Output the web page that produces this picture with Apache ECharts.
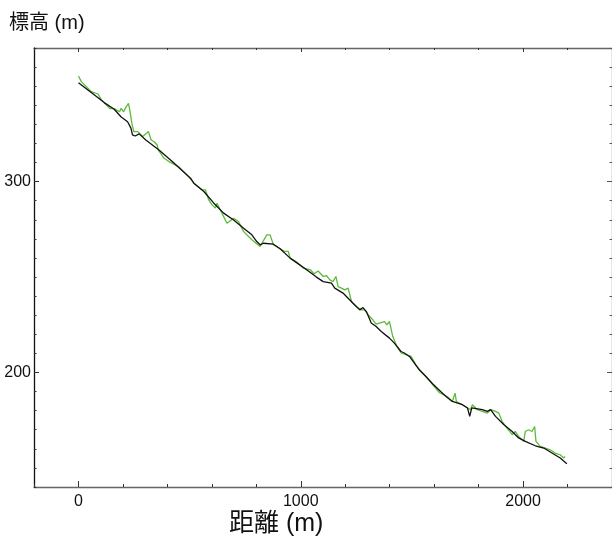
<!DOCTYPE html>
<html>
<head>
<meta charset="utf-8">
<script src="https://cdn.jsdelivr.net/npm/echarts@6/dist/echarts.min.js"></script>
<style>
  html, body { margin: 0; padding: 0; background: #fff; }
  #chart { width: 612px; height: 536px; }
</style>
</head>
<body>
<div id="chart"></div>
<script>
// distance (m), elevation (m)
const blackLine = [
  [0,351.8],[116,341.4],[161,337.9],[191,334.0],[206,332.7],[221,331.4],[236,328.0],[243,324.5],[255,323.9],[273,325.0],
  [303,321.8],[362,316.6],[422,310.5],[504,301.8],[519,299.2],[564,294.8],[609,288.7],[653,283.5],[698,279.9],[743,275.6],
  [780,272.1],[802,268.6],[817,266.9],[832,267.7],[877,267.2],[907,264.8],[952,259.9],[989,256.9],[1034,253.2],[1069,250.1],
  [1101,247.6],[1138,246.8],[1153,244.2],[1190,241.6],[1235,236.3],[1265,232.8],[1280,234.0],[1295,231.9],[1317,225.9],[1339,224.1],
  [1362,221.5],[1399,218.0],[1421,215.4],[1451,211.0],[1466,210.2],[1489,208.4],[1511,204.9],[1533,201.4],[1563,197.9],[1593,194.1],
  [1629,190.0],[1660,186.8],[1682,184.8],[1727,183.1],[1750,181.4],[1760,177.0],[1769,181.4],[1817,180.5],[1839,179.6],[1854,180.5],
  [1876,177.0],[1914,172.6],[1951,169.1],[1980,165.7],[2010,163.9],[2055,161.6],[2093,160.4],[2130,157.8],[2167,155.2],[2197,152.2]
];
const greenLine = [
  [0,355.3],[13,352.4],[58,347.1],[88,345.9],[103,342.8],[140,338.4],[162,338.1],[185,336.6],[192,338.4],[203,336.6],
  [215,339.3],[225,341.0],[231,337.5],[240,330.6],[249,326.2],[267,326.2],[289,323.6],[315,326.2],[327,321.8],[341,320.9],
  [354,319.2],[359,316.6],[385,312.2],[407,310.5],[452,307.7],[497,302.5],[519,299.2],[556,295.7],[571,295.7],[586,290.4],
  [601,287.8],[616,286.1],[623,288.7],[638,285.2],[668,278.2],[698,280.8],[720,279.1],[743,273.8],[780,269.5],[817,266.0],
  [847,272.1],[862,272.1],[877,266.9],[907,264.8],[929,263.4],[944,263.4],[952,259.9],[980,258.0],[1011,254.8],[1043,253.8],
  [1060,251.7],[1078,253.2],[1101,250.3],[1115,250.8],[1131,248.5],[1145,247.6],[1158,250.3],[1168,245.0],[1183,244.2],[1198,243.3],
  [1213,244.2],[1228,237.2],[1250,234.6],[1272,232.8],[1287,232.8],[1310,229.3],[1324,227.6],[1339,225.3],[1354,225.9],[1362,225.0],
  [1377,226.7],[1387,225.0],[1399,226.7],[1414,218.8],[1429,214.5],[1451,210.2],[1473,209.3],[1496,208.4],[1518,204.0],[1541,200.5],
  [1563,197.9],[1593,193.6],[1624,189.4],[1660,187.3],[1682,184.8],[1694,189.2],[1700,184.8],[1727,183.1],[1764,180.5],[1772,183.1],
  [1794,180.5],[1817,179.6],[1839,178.7],[1854,180.5],[1876,179.6],[1891,178.7],[1906,174.3],[1928,170.9],[1951,167.4],[1965,169.1],
  [1980,166.5],[2003,163.9],[2010,169.1],[2025,170.0],[2040,169.1],[2052,171.7],[2058,163.9],[2077,161.3],[2100,160.4],[2122,159.5],
  [2144,157.8],[2167,156.9],[2182,155.2],[2189,156.0]
];

const xTickLabels = [0, 1000, 2000];
const yTickLabels = [200, 300];
const xRange = [-200, 2400];
const yRange = [140, 370];

const font = '"Liberation Sans", "Noto Sans CJK JP", sans-serif';
const axisGray = '#666';

function xAx(pos, opts) {
  return Object.assign({
    type: 'value', position: pos, offset: 0, min: xRange[0], max: xRange[1], interval: 200,
    splitLine: { show: false },
    axisLine: { show: false, onZero: false },
    axisLabel: { show: false },
    axisTick: { show: false }
  }, opts);
}
function yAx(pos, opts) {
  return Object.assign({
    type: 'value', position: pos, offset: 0, min: yRange[0], max: yRange[1], interval: 10,
    splitLine: { show: false },
    axisLine: { show: false, onZero: false },
    axisLabel: { show: false },
    axisTick: { show: false }
  }, opts);
}

const chart = echarts.init(document.getElementById('chart'));
chart.setOption({
  animation: false,
  backgroundColor: '#fff',
  grid: { left: 34, top: 48, right: -3, bottom: 49, containLabel: false },
  xAxis: [
    xAx('bottom', {
      axisLine: { show: true, onZero: false, lineStyle: { color: axisGray, width: 1.3 } },
      axisTick: { show: true, inside: true, length: 3, lineStyle: { color: '#333' } },
      axisLabel: { show: true, customValues: xTickLabels, formatter: v => String(v), margin: 7, color: '#111', fontSize: 16, fontFamily: font }
    }),
    xAx('bottom', {
      axisTick: { show: true, inside: true, length: 6, customValues: xTickLabels, lineStyle: { color: '#333' } }
    }),
    xAx('top', {
      axisLine: { show: true, onZero: false, lineStyle: { color: axisGray, width: 1.3 } },
      axisTick: { show: true, inside: true, length: 2, lineStyle: { color: '#333' } }
    }),
    xAx('top', {
      axisTick: { show: true, inside: true, length: 4, customValues: xTickLabels, lineStyle: { color: '#333' } }
    })
  ],
  yAxis: [
    yAx('left', {
      axisLine: { show: true, onZero: false, lineStyle: { color: '#111', width: 1.3 } },
      axisTick: { show: true, inside: true, length: 2.5, lineStyle: { color: '#333' } },
      axisLabel: { show: true, customValues: yTickLabels, margin: 3, color: '#111', fontSize: 16, fontFamily: font }
    }),
    yAx('left', {
      axisTick: { show: true, inside: true, length: 5, customValues: yTickLabels, lineStyle: { color: '#333' } }
    }),
    yAx('right', {
      axisLine: { show: true, onZero: false, lineStyle: { color: axisGray, width: 1.3 } },
      axisTick: { show: true, inside: true, length: 2.5, lineStyle: { color: '#555' } }
    }),
    yAx('right', {
      axisTick: { show: true, inside: true, length: 5, customValues: yTickLabels, lineStyle: { color: '#555' } }
    })
  ],
  graphic: [
    { type: 'text', left: 9, top: 13, style: { text: '標高 (m)', fontSize: 20, fontFamily: font, fill: '#111' } },
    { type: 'text', left: 229, top: 512, style: { text: '距離 (m)', fontSize: 25, fontFamily: font, fill: '#111' } }
  ],
  series: [
    {
      type: 'line', data: greenLine, xAxisIndex: 0, yAxisIndex: 0,
      showSymbol: false, lineStyle: { color: '#5cbb3a', width: 1.3 }
    },
    {
      type: 'line', data: blackLine, xAxisIndex: 0, yAxisIndex: 0,
      showSymbol: false, lineStyle: { color: '#111', width: 1.3 }
    }
  ]
});
</script>
</body>
</html>
